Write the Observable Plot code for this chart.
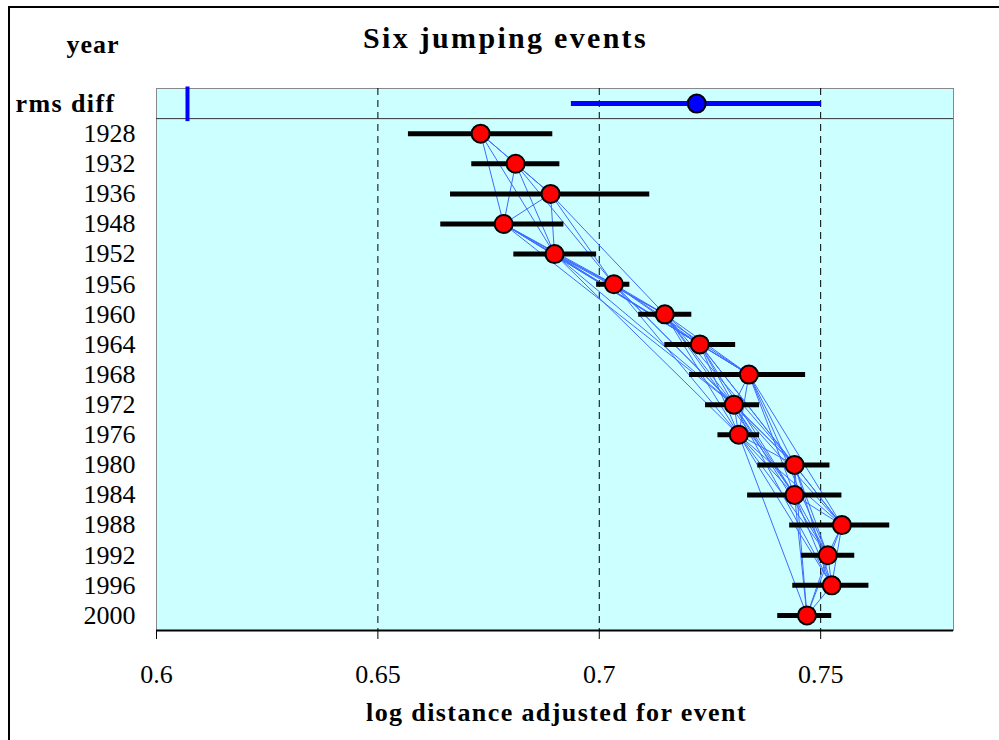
<!DOCTYPE html>
<html>
<head>
<meta charset="utf-8">
<script src="https://cdn.jsdelivr.net/npm/d3@7"></script>
<script src="https://cdn.jsdelivr.net/npm/@observablehq/plot@0.6"></script>
<style>
  html, body { margin: 0; padding: 0; background: white; }
  #wrap { position: relative; width: 999px; height: 740px; overflow: hidden; }
  #border { position: absolute; left: 8px; top: 6px; width: 1100px; height: 800px;
            border-left: 2px solid black; border-top: 2px solid black; pointer-events: none; }
</style>
</head>
<body>
<div id="wrap"><div id="border"></div></div>
<script>
// ---- data ----
const titleText = "Six jumping events";
const yearHeader = "year";
const rmsLabel = "rms diff";
const xLabel = "log distance adjusted for event";

const years = [1928, 1932, 1936, 1948, 1952, 1956, 1960, 1964, 1968, 1972, 1976, 1980, 1984, 1988, 1992, 1996, 2000];
const estimate = [0.6732, 0.6811, 0.6890, 0.6784, 0.6899, 0.7033, 0.7148, 0.7227, 0.7338, 0.7304, 0.7315, 0.7441, 0.7441, 0.7548, 0.7516, 0.7525, 0.7469];
const low      = [0.6569, 0.6712, 0.6664, 0.6642, 0.6807, 0.6994, 0.7089, 0.7148, 0.7204, 0.7240, 0.7268, 0.7358, 0.7335, 0.7430, 0.7457, 0.7437, 0.7403];
const high     = [0.6895, 0.6911, 0.7114, 0.6920, 0.6994, 0.7069, 0.7209, 0.7308, 0.7466, 0.7362, 0.7362, 0.7521, 0.7548, 0.7656, 0.7577, 0.7609, 0.7525];

const rmsEstimate = 0.7220;
const rmsLow = 0.6937;
const rmsHigh = 0.7502;
const rmsMarker = 0.607;

const xTicks = [0.6, 0.65, 0.7, 0.75];
const xTickLabels = ["0.6", "0.65", "0.7", "0.75"];
const gridValues = [0.65, 0.7, 0.75];
const linkSpanYears = 24;

// ---- derived tables ----
const rows = years.map((yr, k) => ({row: k + 1, year: yr, est: estimate[k], lo: low[k], hi: high[k]}));
const pairs = [];
for (let a = 0; a < rows.length; a++)
  for (let b = a + 1; b < rows.length; b++)
    if (rows[b].year - rows[a].year <= linkSpanYears) pairs.push({a: rows[a], b: rows[b]});
const rmsRow = [{row: 0, est: rmsEstimate, lo: rmsLow, hi: rmsHigh}];

const serif = "'Liberation Serif', 'Times New Roman', serif";

const chart = Plot.plot({
  width: 999,
  height: 740,
  marginLeft: 156,
  marginRight: 46,
  marginTop: 88,
  marginBottom: 110,
  style: {fontFamily: serif, background: "white", color: "black"},
  x: {domain: [0.6, 0.78]},
  y: {domain: [years.length + 0.5, -0.5]},
  marks: [
    Plot.frame({fill: "#ccffff", stroke: "#888888"}),
    Plot.ruleX(gridValues, {stroke: "black", strokeDasharray: "7,5", strokeWidth: 1}),
    Plot.ruleY([0.5], {stroke: "#333333", strokeWidth: 1}),
    Plot.ruleY([years.length + 0.5], {stroke: "black", strokeWidth: 2}),
    // connecting lines between nearby years
    Plot.link(pairs, {
      x1: d => d.a.est, y1: d => d.a.row,
      x2: d => d.b.est, y2: d => d.b.row,
      stroke: "#3b6cff", strokeWidth: 1
    }),
    // error bars
    Plot.ruleY(rows, {y: "row", x1: "lo", x2: "hi", stroke: "black", strokeWidth: 5}),
    Plot.dot(rows, {x: "est", y: "row", r: 9, fill: "#ff0000", stroke: "black", strokeWidth: 2}),
    // rms diff row
    Plot.ruleX([rmsMarker], {y1: -0.55, y2: 0.6, stroke: "#0000ff", strokeWidth: 4}),
    Plot.ruleY(rmsRow, {y: "row", x1: "lo", x2: "hi", stroke: "#0000ff", strokeWidth: 5}),
    Plot.dot(rmsRow, {x: "est", y: "row", r: 9, fill: "#0000ff", stroke: "black", strokeWidth: 2}),
    // axes
    Plot.axisX(xTicks, {
      tickFormat: (d, i) => xTickLabels[i], tickSize: 9, tickPadding: 25,
      fontSize: 26, fontFamily: serif, label: null, stroke: "black"
    }),
    Plot.axisY(rows.map(d => d.row), {
      tickFormat: (d) => String(years[d - 1]), tickSize: 0, tickPadding: 21,
      fontSize: 26, fontFamily: serif, label: null
    }),
    Plot.text([rmsLabel], {
      y: () => 0, frameAnchor: "left", dx: -141, textAnchor: "start", lineAnchor: "middle", text: d => d,
      fontSize: 26, fontWeight: "bold", fontFamily: serif
    }),
    Plot.text([yearHeader], {
      frameAnchor: "top-left", dx: -63.5, dy: -44.3, textAnchor: "middle", lineAnchor: "middle", text: d => d,
      fontSize: 26, fontWeight: "bold", fontFamily: serif
    }),
    Plot.text([titleText], {
      frameAnchor: "top", dx: -49.5, dy: -50.6, textAnchor: "middle", lineAnchor: "middle", text: d => d,
      fontSize: 30, fontWeight: "bold", fontFamily: serif
    }),
    Plot.text([xLabel], {
      frameAnchor: "bottom", dx: 1.5, dy: 81.7, textAnchor: "middle", lineAnchor: "middle", text: d => d,
      fontSize: 26, fontWeight: "bold", fontFamily: serif
    })
  ]
});

// letter spacing of the bold headings, as in the reference
const spacing = new Map([[titleText, "2.3px"], [xLabel, "1.4px"], [rmsLabel, "1.4px"], [yearHeader, "1px"]]);
d3.select(chart).selectAll("text").each(function() {
  const t = this.textContent;
  if (spacing.has(t)) this.setAttribute("letter-spacing", spacing.get(t));
});

document.getElementById("wrap").prepend(chart);
</script>
</body>
</html>
